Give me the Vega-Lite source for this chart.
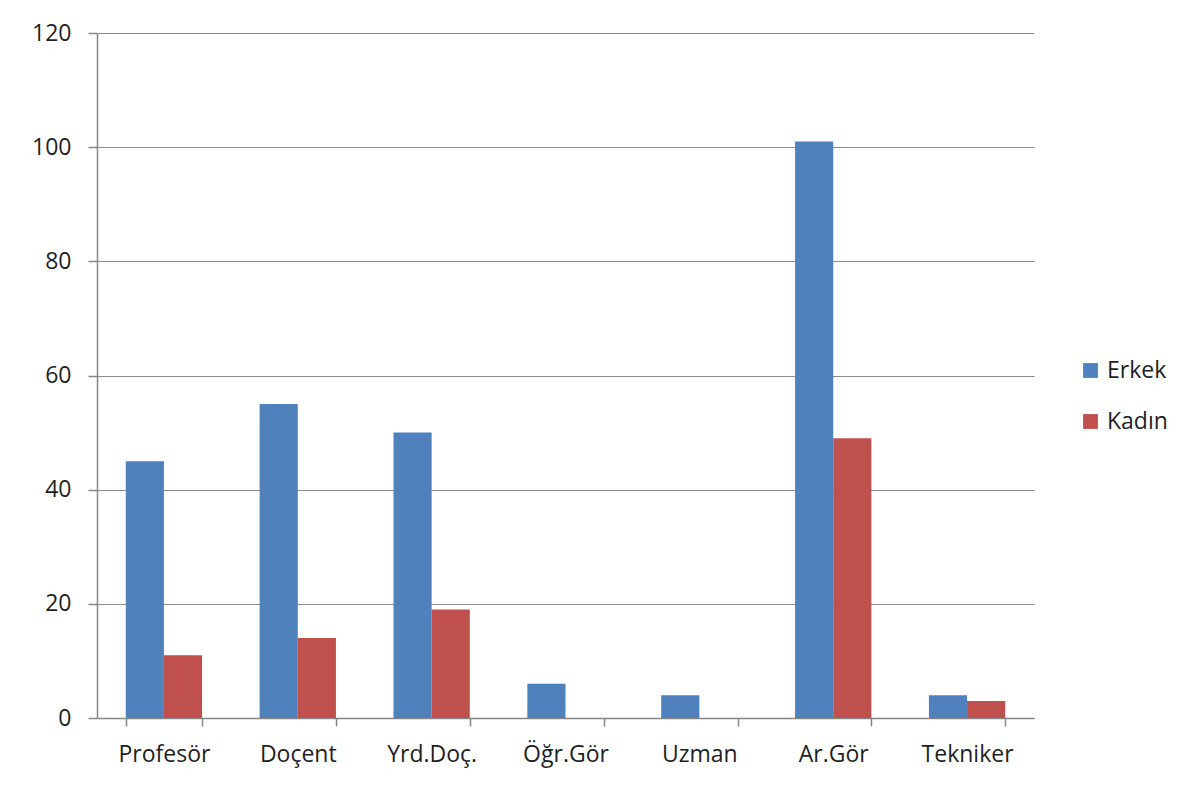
{
  "$schema": "https://vega.github.io/schema/vega-lite/v6.json",
  "width": 937,
  "height": 685,
  "autosize": {"type": "none"},
  "padding": {"left": 97, "top": 33, "right": 160, "bottom": 73},
  "background": "white",
  "data": {
    "values": [
      {"kategori": "Profesör", "cinsiyet": "Erkek", "sayi": 45},
      {"kategori": "Profesör", "cinsiyet": "Kadın", "sayi": 11},
      {"kategori": "Doçent", "cinsiyet": "Erkek", "sayi": 55},
      {"kategori": "Doçent", "cinsiyet": "Kadın", "sayi": 14},
      {"kategori": "Yrd.Doç.", "cinsiyet": "Erkek", "sayi": 50},
      {"kategori": "Yrd.Doç.", "cinsiyet": "Kadın", "sayi": 19},
      {"kategori": "Öğr.Gör", "cinsiyet": "Erkek", "sayi": 6},
      {"kategori": "Öğr.Gör", "cinsiyet": "Kadın", "sayi": 0},
      {"kategori": "Uzman", "cinsiyet": "Erkek", "sayi": 4},
      {"kategori": "Uzman", "cinsiyet": "Kadın", "sayi": 0},
      {"kategori": "Ar.Gör", "cinsiyet": "Erkek", "sayi": 101},
      {"kategori": "Ar.Gör", "cinsiyet": "Kadın", "sayi": 49},
      {"kategori": "Tekniker", "cinsiyet": "Erkek", "sayi": 4},
      {"kategori": "Tekniker", "cinsiyet": "Kadın", "sayi": 3}
    ]
  },
  "mark": {"type": "bar"},
  "encoding": {
    "x": {
      "field": "kategori",
      "type": "nominal",
      "sort": null,
      "title": null,
      "scale": {"paddingInner": 0.43, "paddingOuter": 0.215},
      "axis": {
        "labelAngle": 0,
        "labelFont": "Open Sans",
        "labelFontSize": 23,
        "labelColor": "#1f1f1f",
        "labelPadding": 17,
        "tickBand": "extent",
        "tickSize": 8,
        "tickColor": "#868686",
        "domainColor": "#868686",
        "domainWidth": 1.5,
        "tickWidth": 1.5,
        "grid": false
      }
    },
    "xOffset": {"field": "cinsiyet", "type": "nominal", "scale": {"paddingInner": 0, "paddingOuter": 0}},
    "y": {
      "field": "sayi",
      "type": "quantitative",
      "title": null,
      "scale": {"domain": [0, 120], "nice": false},
      "axis": {
        "values": [0, 20, 40, 60, 80, 100, 120],
        "labelFont": "Open Sans",
        "labelFontSize": 23,
        "labelColor": "#1f1f1f",
        "labelPadding": 17,
        "tickSize": 9,
        "tickColor": "#868686",
        "tickWidth": 1.5,
        "domainColor": "#868686",
        "domainWidth": 1.5,
        "gridColor": "#8c8c8c",
        "gridWidth": 1.2
      }
    },
    "color": {
      "field": "cinsiyet",
      "type": "nominal",
      "title": null,
      "scale": {"domain": ["Erkek", "Kadın"], "range": ["#4F81BD", "#C0504D"]},
      "legend": {
        "orient": "none",
        "legendX": 982,
        "legendY": 326,
        "symbolType": "square",
        "symbolSize": 220,
        "symbolStrokeWidth": 0,
        "labelFont": "Open Sans",
        "labelFontSize": 23,
        "labelColor": "#1f1f1f",
        "rowPadding": 27,
        "labelOffset": 5
      }
    }
  },
  "config": {"view": {"stroke": null}}
}
